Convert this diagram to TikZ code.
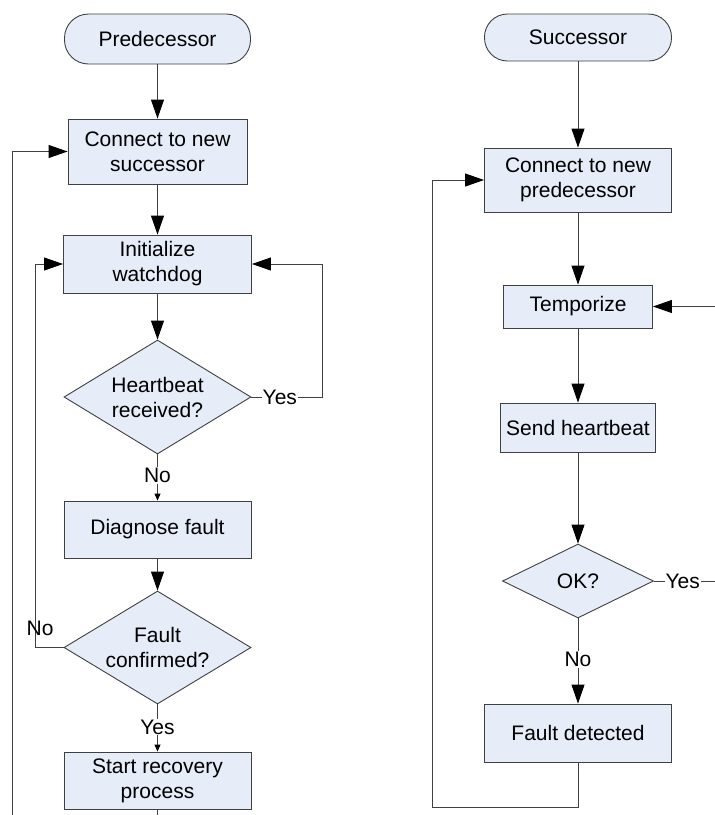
\documentclass[tikz,border=0pt]{standalone}
\usepackage{fontspec}
\setmainfont{Liberation Sans}
\usetikzlibrary{arrows.meta,shapes.geometric}
\definecolor{boxfill}{RGB}{230,236,248}
\definecolor{linegray}{RGB}{64,64,64}
\begin{document}
\begin{tikzpicture}[x=1pt,y=-1pt,
  every node/.style={font=\fontsize{21}{25}\selectfont},
  proc/.style={draw=linegray, fill=boxfill, line width=0.9pt, rectangle,
    inner sep=0pt, align=center},
  term/.style={proc, rounded corners=#1},
  decision/.style={draw=linegray, fill=boxfill, line width=0.9pt, diamond,
    inner sep=0pt, align=center},
  conn/.style={draw=linegray, line width=0.9pt},
  bigarrow/.style={conn, -{Triangle[length=19pt,width=13pt,color=black]}},
  smallarrow/.style={conn, -{Triangle[length=7pt,width=6pt,color=black]}},
  lbl/.style={fill=white, inner sep=1pt}
]
\useasboundingbox (0,0) rectangle (715,815);

% ---------- predecessor side ----------
\node[term=24pt, minimum width=186pt, minimum height=50pt] (pred) at (157.5,39) {Predecessor};
\node[proc, minimum width=179pt, minimum height=65pt] (csucc) at (157.5,151.5) {Connect to new\\successor};
\node[proc, minimum width=188pt, minimum height=58pt] (init) at (157.5,264) {Initialize\\watchdog};
\node[decision, minimum width=187pt, minimum height=114pt, shape aspect=1.64] (hb) at (157.5,397) {Heartbeat\\received?};
\node[proc, minimum width=187pt, minimum height=57pt] (diag) at (157.5,529.5) {Diagnose fault};
\node[decision, minimum width=187pt, minimum height=113pt, shape aspect=1.65] (fc) at (157.5,647.5) {Fault\\confirmed?};
\node[proc, minimum width=187pt, minimum height=57pt] (rec) at (157.5,780.5) {Start recovery\\process};

\coordinate (recEnd) at (157.5,815);
\coordinate (loopL) at (12,815);

\draw[bigarrow] (pred) -- (csucc);
\draw[bigarrow] (csucc) -- (init);
\draw[bigarrow] (init) -- (hb);
\draw[smallarrow] (hb.south) -- node[lbl, pos=0.46]{No} (diag.north);
\draw[bigarrow] (hb.east) -- node[lbl, pos=0.40]{Yes} ++(71,0) |- (init.east);
\draw[bigarrow] (diag) -- (fc);
\draw[bigarrow] (fc.west) -- node[pos=0.84, yshift=19pt, inner sep=0pt]{No} ++(-28,0) |- (init.west);
\draw[smallarrow] (fc.south) -- node[lbl, pos=0.48]{Yes} (rec.north);
\draw[conn] (rec.south) -- (recEnd);
\draw[bigarrow] (loopL) |- (csucc.west);

% ---------- successor side ----------
\node[term=23pt, minimum width=187pt, minimum height=47pt] (succ) at (578,37.5) {Successor};
\node[proc, minimum width=187pt, minimum height=64pt] (cpred) at (578,180) {Connect to new\\predecessor};
\node[proc, minimum width=149pt, minimum height=43pt] (temp) at (578,306.5) {Temporize};
\node[proc, minimum width=155pt, minimum height=49pt] (send) at (578,427.5) {Send heartbeat};
\node[decision, minimum width=151pt, minimum height=74pt, shape aspect=2.04] (ok) at (578,581) {OK?};
\node[proc, minimum width=187pt, minimum height=58pt] (fd) at (578,733) {Fault detected};

\coordinate (okEnd) at (715,581);
\coordinate (tempIn) at (715,306.5);
\coordinate (loopR) at (432,807);

\draw[bigarrow] (succ) -- (cpred);
\draw[bigarrow] (cpred) -- (temp);
\draw[bigarrow] (temp) -- (send);
\draw[bigarrow] (send) -- (ok);
\draw[conn] (ok.east) -- node[lbl, pos=0.47]{Yes} (okEnd);
\draw[bigarrow] (tempIn) -- (temp.east);
\draw[bigarrow] (ok.south) -- node[lbl, pos=0.48]{No} (fd.north);
\draw[bigarrow] (fd.south) |- (loopR) |- (cpred.west);
\end{tikzpicture}
\end{document}
